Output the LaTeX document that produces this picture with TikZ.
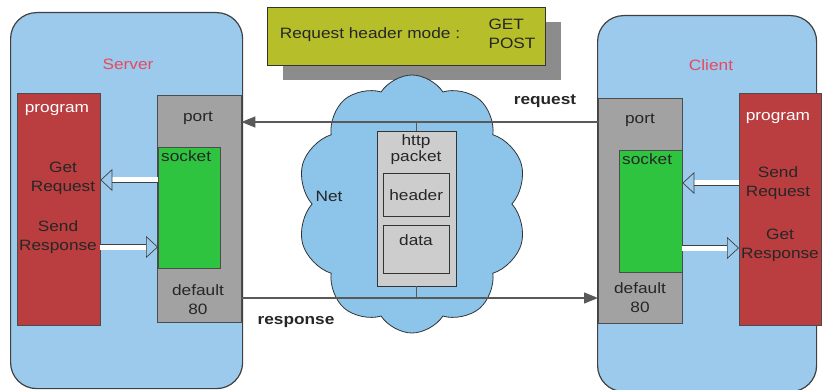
\documentclass[tikz,border=0pt]{standalone}
\usepackage{fontspec}
\setmainfont[FakeStretch=1.15]{Liberation Sans}
\usetikzlibrary{arrows.meta, shapes.symbols, shadows}

\definecolor{hostblue}{RGB}{155,202,236}
\definecolor{netblue}{RGB}{140,196,234}
\definecolor{progred}{RGB}{186,62,64}
\definecolor{portgray}{RGB}{162,162,162}
\definecolor{sockgreen}{RGB}{46,196,64}
\definecolor{modeolive}{RGB}{182,190,42}
\definecolor{pktgray}{RGB}{205,205,205}
\definecolor{labelred}{RGB}{232,72,96}

\begin{document}
\begin{tikzpicture}[x=1pt, y=-1pt, font=\fontsize{15}{19}\selectfont, text=black!85,
    host/.style = {draw=black!75, line width=1.2pt, fill=hostblue, rounded corners=26pt, anchor=north west},
    prog/.style = {draw=black!70, fill=progred, anchor=north west},
    port/.style = {draw=black!70, fill=portgray, anchor=north west},
    sock/.style = {draw=black!70, fill=sockgreen, anchor=north west},
    part/.style = {draw=black!80, fill=pktgray, anchor=north west},
    hollow/.style = {draw=black!75, double=white, double distance=5pt, line width=0.7pt, -{Triangle[open, length=12pt, width=22pt]}},
    wire/.style = {draw=black!65, line width=1.3pt, -{Triangle[length=14pt, width=11pt]}}]
    \useasboundingbox (0,0) rectangle (824,390);

    % the two hosts
    \node[host, minimum width=232pt, minimum height=376pt] (server) at (10,12) {};
    \node[host, minimum width=219pt, minimum height=376pt] (client) at (597,15) {};
    \node[text=labelred] (serverlbl) at (128,64) {Server};
    \node[text=labelred] (clientlbl) at (711,65) {Client};

    % server side
    \node[prog, minimum width=83pt, minimum height=232pt] (sprog) at (17,93) {};
    \node[port, minimum width=84pt, minimum height=227pt] (sport) at (157,95) {};
    \node[sock, minimum width=62pt, minimum height=121pt] (ssock) at (158,147) {};
    \node[text=white] (sproglbl) at (57,110) {program};
    \node (sportlbl) at (198,118) {port};
    \node[anchor=north west, inner sep=3pt] (ssocklbl) at (ssock.north west) {socket};
    \node[align=center] (sdefault) at (198,300) {default\\80};
    \node[align=center] (sget) at (63,178) {Get\\Request};
    \node[align=center] (ssend) at (58,237) {Send\\Response};

    % client side
    \node[port, minimum width=84pt, minimum height=225pt] (cport) at (598,98) {};
    \node[sock, minimum width=63pt, minimum height=122pt] (csock) at (619,150) {};
    \node[prog, minimum width=82pt, minimum height=232pt] (cprog) at (739,93) {};
    \node[text=white] (cproglbl) at (778,118) {program};
    \node (cportlbl) at (640,120) {port};
    \node[anchor=north west, inner sep=3pt] (csocklbl) at (csock.north west) {socket};
    \node[align=center] (cdefault) at (640,298) {default\\80};
    \node[align=center] (csend) at (778,183) {Send\\Request};
    \node[align=center] (cget) at (780,245) {Get\\Response};

    % request header mode
    \node[draw=black!80, fill=modeolive, anchor=north west, minimum width=278pt, minimum height=58pt,
          drop shadow={shadow xshift=16pt, shadow yshift=-15pt, fill=black!45, opacity=1}] (mode) at (267,7) {};
    \node (modelbl) at (370,35) {Request header mode :};
    \node[align=left] (modeval) at (512,34) {GET\\POST};

    % the net
    \node[cloud, cloud puffs=10, cloud puff arc=115, aspect=0.9, draw=black!80, line width=0.8pt, fill=netblue,
          minimum width=230pt, minimum height=258pt] (net) at (412,204) {};
    \node (netlbl) at (329,196) {Net};
    \node[part, minimum width=79pt, minimum height=155pt] (packet) at (377,131) {};
    \node[align=center, font=\fontsize{15}{16}\selectfont] (packetlbl) at (416,150) {http\\packet};
    \node[part, minimum width=66pt, minimum height=43pt] (header) at (383,173) {};
    \node (headerlbl) at (header.center) {header};
    \node[part, minimum width=66pt, minimum height=48pt] (data) at (383,225) {};
    \node (datalbl) at (416,240) {data};

    \coordinate (reqy) at (0,122);
    \coordinate (resy) at (0,298);
    \path[wire] (cport.west |- reqy) -- (sport.east |- reqy);
    \path[wire] (sport.east |- resy) -- (cport.west |- resy);
    \draw[black!65, line width=1pt] (packet.north) -- (packet.north |- reqy);
    \draw[black!65, line width=1pt] (packet.south) -- (packet.south |- resy);
    \node[font=\fontsize{15}{18}\selectfont\bfseries] (reqlbl) at (545,101) {request};
    \node[font=\fontsize{15}{18}\selectfont\bfseries] (reslbl) at (296,322) {response};

    % socket <-> program
    \coordinate (sy1) at (0,180);
    \coordinate (sy2) at (0,247);
    \coordinate (cy1) at (0,183);
    \coordinate (cy2) at (0,248);
    \path[hollow] (ssock.west |- sy1) -- (sprog.east |- sy1);
    \path[hollow] (sprog.east |- sy2) -- (ssock.west |- sy2);
    \path[hollow] (cprog.west |- cy1) -- (csock.east |- cy1);
    \path[hollow] (csock.east |- cy2) -- (cprog.west |- cy2);
\end{tikzpicture}
\end{document}
